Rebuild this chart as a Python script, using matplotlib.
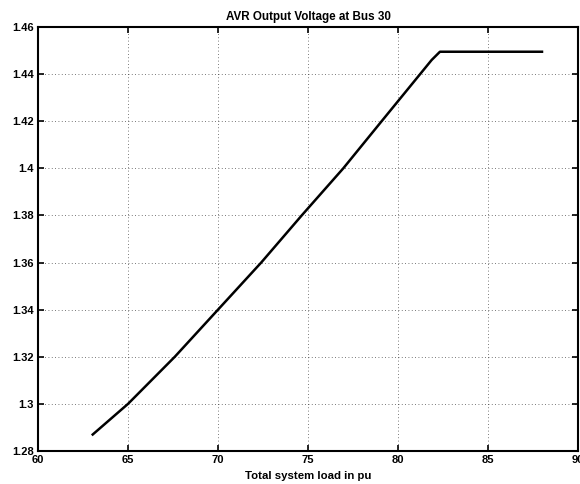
import matplotlib
matplotlib.use("Agg")
import matplotlib.pyplot as plt

load = [63.04, 65.0, 67.6, 70.0, 72.4, 74.65, 76.96, 79.09, 81.87, 82.33, 85.0, 88.0]
voltage = [1.287, 1.300, 1.320, 1.340, 1.360, 1.380, 1.400, 1.420, 1.446, 1.4495, 1.4495, 1.4495]
xticks = [60, 65, 70, 75, 80, 85, 90]
yticks = [1.28, 1.30, 1.32, 1.34, 1.36, 1.38, 1.40, 1.42, 1.44, 1.46]
ytick_labels = ["1.28", "1.3", "1.32", "1.34", "1.36", "1.38", "1.4", "1.42", "1.44", "1.46"]

plt.rcParams['font.family'] = ['Liberation Sans', 'DejaVu Sans']

fig = plt.figure(figsize=(5.8, 4.84), dpi=100)
ax = fig.add_axes([38/580, 1-451/484, 540/580, 424/484])
ax.plot(load, voltage, color='black', linewidth=1.8)
ax.set_xlim(60, 90)
ax.set_ylim(1.28, 1.46)
ax.set_xticks(xticks)
ax.set_xticklabels([str(t) for t in xticks], fontsize=8, fontweight='bold')
ax.set_yticks(yticks)
ax.set_yticklabels(ytick_labels, fontsize=8, fontweight='bold')
ax.tick_params(direction='in', length=4, width=1.2, top=True, right=True, pad=3)
ax.grid(True, linestyle=(0, (1, 3)), color='black', linewidth=0.6, alpha=0.7)
for s in ax.spines.values():
    s.set_linewidth(1.5)
ax.set_title("AVR Output Voltage at Bus 30", fontsize=8.4, fontweight='bold', pad=5)
ax.set_xlabel("Total system load in pu", fontsize=8.2, fontweight='bold', labelpad=4)
fig.savefig("out.png", dpi=100)
